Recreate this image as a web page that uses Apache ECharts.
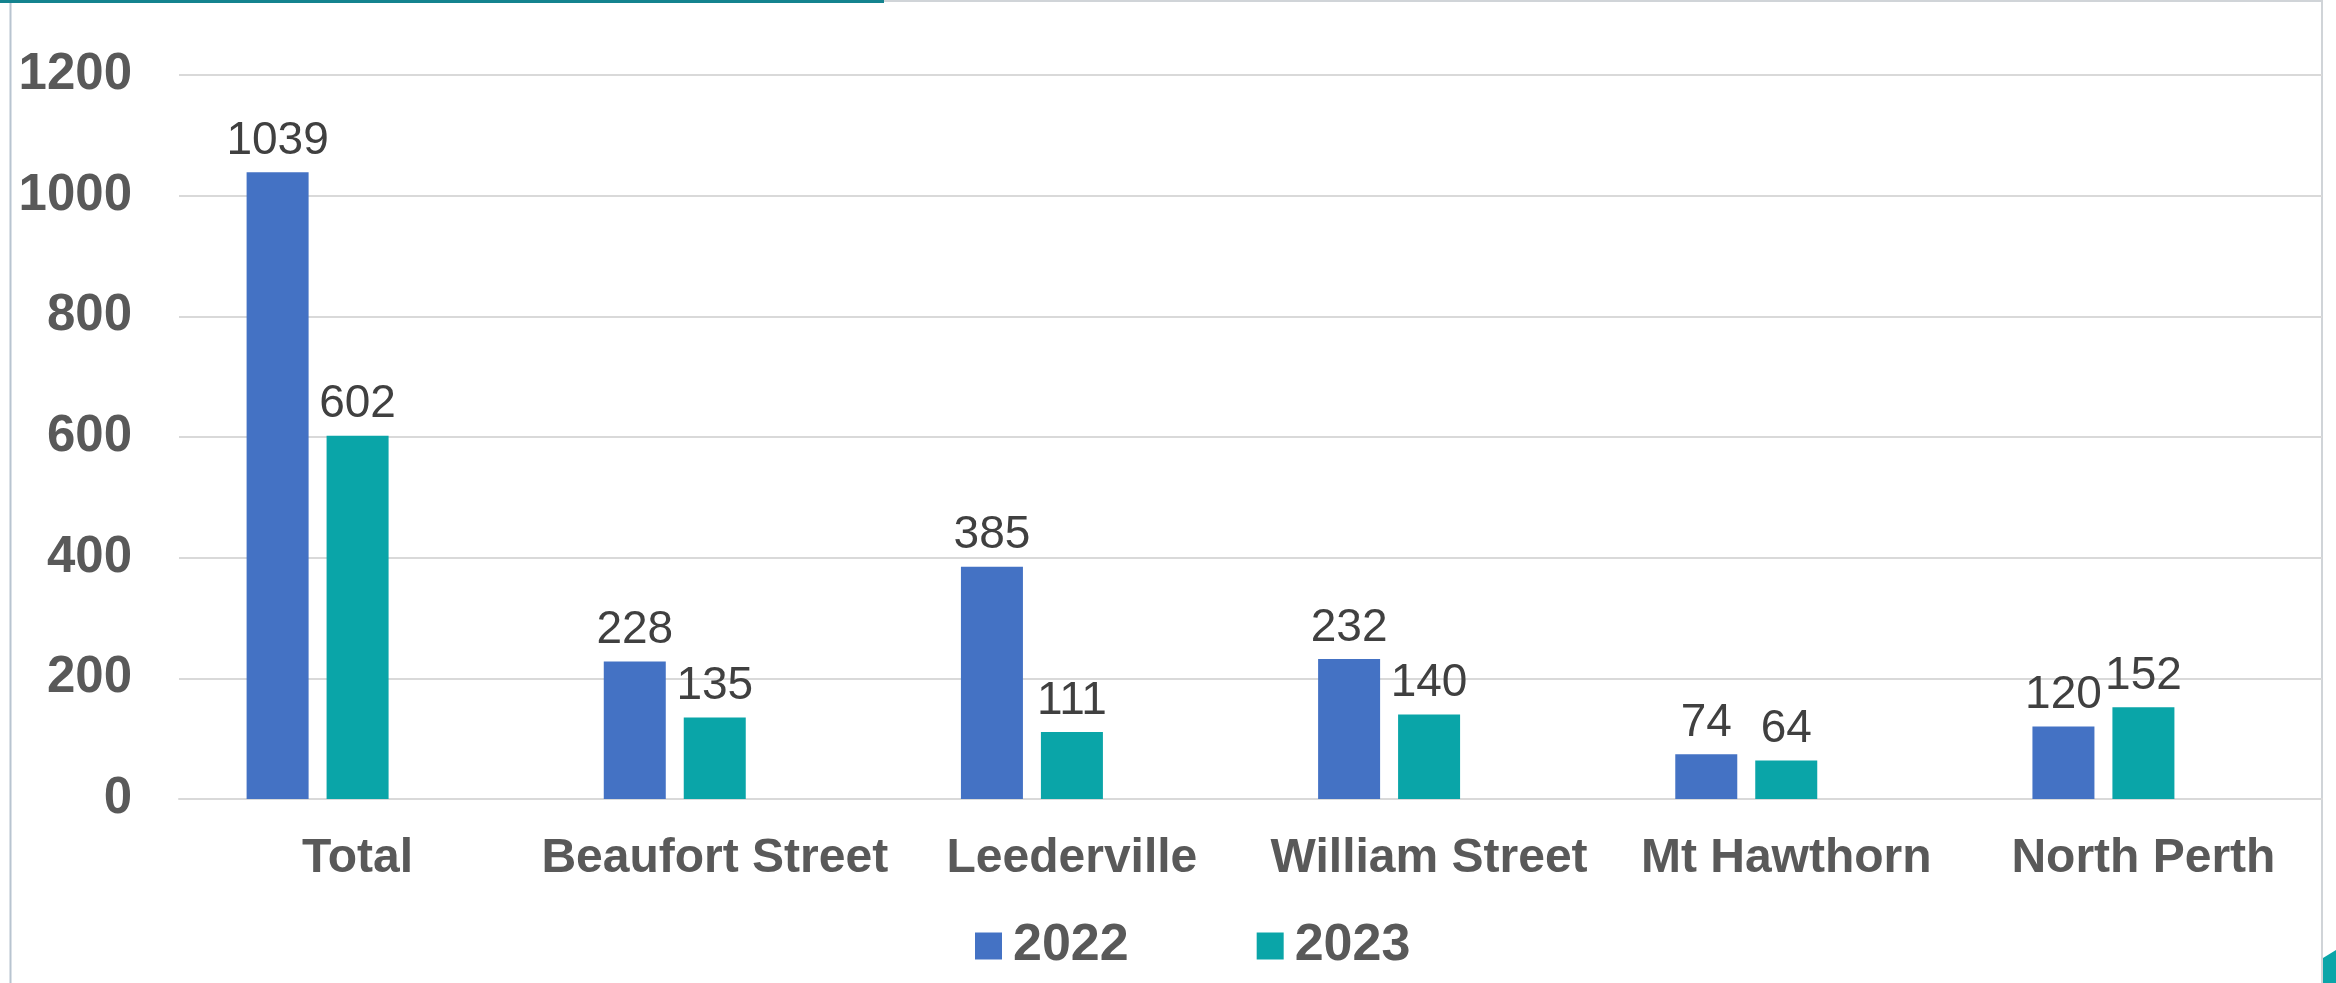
<!DOCTYPE html>
<html><head><meta charset="utf-8">
<script src="https://cdn.jsdelivr.net/npm/echarts@6/dist/echarts.min.js"></script>
<style>html,body{margin:0;padding:0;background:#fff}#c{width:2336px;height:983px}</style>
</head><body><div id="c"></div>
<script>
const categories = ['Total', 'Beaufort Street', 'Leederville', 'William Street', 'Mt Hawthorn', 'North Perth'];
const values2022 = [1039, 228, 385, 232, 74, 120];
const values2023 = [602, 135, 111, 140, 64, 152];
const emptySeries = [null, null, null, null, null, null];
const yTicks = { min: 0, max: 1200, interval: 200 };

const chart = echarts.init(document.getElementById('c'));
const font = '"Liberation Sans", Arial, sans-serif';
const labelStyle = { show: true, position: 'top', distance: 8, fontSize: 46, color: '#404040', fontFamily: font };
chart.setOption({
  animation: false,
  backgroundColor: '#ffffff',
  grid: { left: 179, right: 14, top: 75, bottom: 184, containLabel: false },
  legend: {
    data: ['2022', '2023'],
    left: 970, top: 915,
    itemWidth: 27, itemHeight: 27, itemGap: 128,
    icon: 'rect',
    textStyle: { fontSize: 52, fontWeight: 'bold', color: '#595959', fontFamily: font, lineHeight: 52, padding: [0, 0, 0, 6] }
  },
  xAxis: {
    type: 'category', data: categories,
    axisLine: { show: true, lineStyle: { color: '#d9d9d9', width: 2 } },
    axisTick: { show: false },
    axisLabel: { fontSize: 48, fontWeight: 'bold', color: '#595959', fontFamily: font, margin: 36, interval: 0 }
  },
  yAxis: {
    type: 'value', min: yTicks.min, max: yTicks.max, interval: yTicks.interval,
    axisLine: { show: false }, axisTick: { show: false },
    splitLine: { lineStyle: { color: '#d9d9d9', width: 2 } },
    axisLabel: { fontSize: 51, fontWeight: 'bold', color: '#595959', fontFamily: font, margin: 47, formatter: v => String(v) }
  },
  series: [
    { name: '2022', type: 'bar', data: values2022, barWidth: 62, barGap: '29%', itemStyle: { color: '#4472C4' }, label: labelStyle },
    { name: '2023', type: 'bar', data: values2023, barWidth: 62, barGap: '29%', itemStyle: { color: '#0AA5A8' }, label: labelStyle },
    { name: 'blank', type: 'bar', data: emptySeries, barWidth: 62, barGap: '29%', itemStyle: { color: 'transparent' } }
  ],
  graphic: [
    { type: 'line', shape: { x1: 10.5, y1: 0, x2: 10.5, y2: 983 }, style: { stroke: '#b8c4d0', lineWidth: 2 }, silent: true },
    { type: 'line', shape: { x1: 884, y1: 1, x2: 2323, y2: 1 }, style: { stroke: '#d0d4d8', lineWidth: 2 }, silent: true },
    { type: 'line', shape: { x1: 2322, y1: 0, x2: 2322, y2: 983 }, style: { stroke: '#d0d4d8', lineWidth: 2 }, silent: true },
    { type: 'rect', shape: { x: 0, y: 0, width: 884, height: 3 }, style: { fill: '#14838f' }, silent: true },
    { type: 'polygon', shape: { points: [[2323, 958], [2336, 950], [2336, 983], [2323, 983]] }, style: { fill: '#0AA5A8' }, silent: true }
  ]
});
</script>
</body></html>
